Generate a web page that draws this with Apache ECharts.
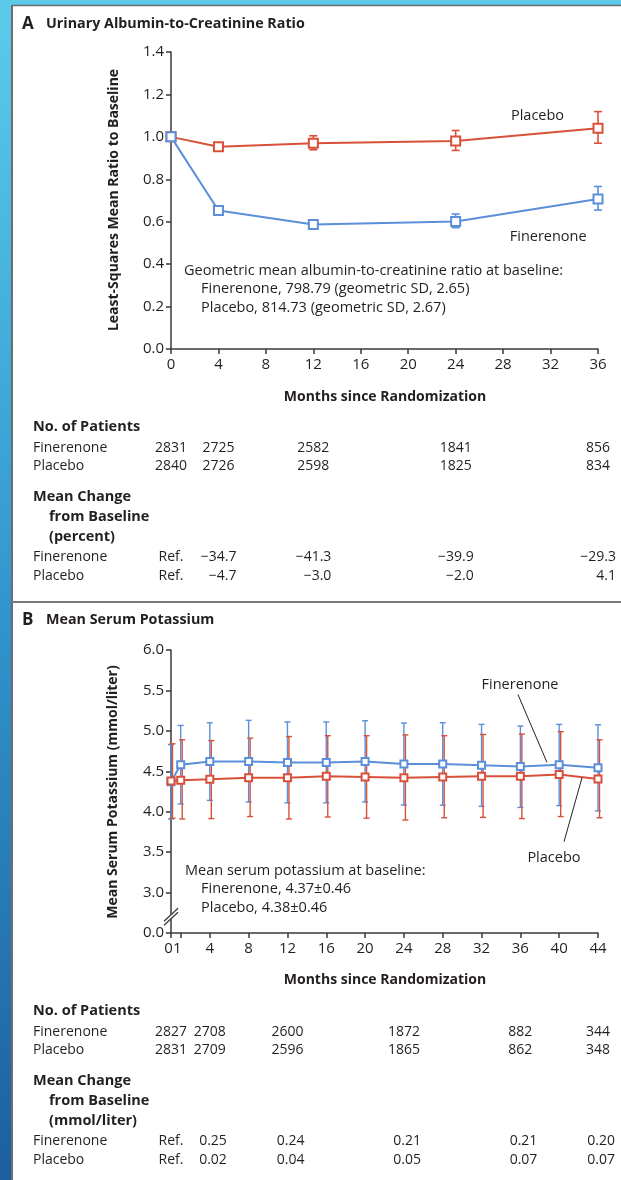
<!DOCTYPE html>
<html>
<head>
<meta charset="utf-8">
<script src="https://cdn.jsdelivr.net/npm/echarts@6/dist/echarts.min.js"></script>
<style>
  html, body { margin: 0; padding: 0; background: #fff; }
  #chart { width: 621px; height: 1180px; }
</style>
</head>
<body>
<div id="chart"></div>
<script>
// ---- Panel A: urinary albumin-to-creatinine ratio (ratio to baseline) ----
const monthsA = [0, 4, 12, 24, 36];
const finA = [1.0, 0.653, 0.587, 0.601, 0.707];
const finALow = [1.0, 0.641, 0.575, 0.572, 0.655];
const finAHigh = [1.0, 0.665, 0.600, 0.636, 0.766];
const placA = [1.0, 0.953, 0.970, 0.980, 1.041];
const placALow = [1.0, 0.937, 0.939, 0.936, 0.970];
const placAHigh = [1.0, 0.970, 1.005, 1.030, 1.119];

// ---- Panel B: mean serum potassium (mmol/liter) ----
const monthsB = [0, 1, 4, 8, 12, 16, 20, 24, 28, 32, 36, 40, 44];
const finB = [4.37, 4.58, 4.62, 4.62, 4.61, 4.61, 4.62, 4.59, 4.59, 4.575, 4.56, 4.58, 4.545];
const finBLow = [3.91, 4.095, 4.14, 4.12, 4.11, 4.11, 4.12, 4.083, 4.08, 4.066, 4.053, 4.075, 4.01];
const finBHigh = [4.83, 5.067, 5.10, 5.13, 5.11, 5.11, 5.125, 5.096, 5.10, 5.08, 5.06, 5.08, 5.075];
const placB = [4.38, 4.39, 4.40, 4.42, 4.42, 4.44, 4.43, 4.42, 4.43, 4.44, 4.44, 4.46, 4.405];
const placBLow = [3.92, 3.91, 3.915, 3.94, 3.91, 3.935, 3.92, 3.897, 3.925, 3.93, 3.915, 3.94, 3.925];
const placBHigh = [4.84, 4.89, 4.88, 4.91, 4.93, 4.94, 4.94, 4.95, 4.94, 4.955, 4.96, 4.99, 4.89];

// Tick positions on the potassium time axis (0 and 1 are labelled separately, they sit close together)
const xTicksB = [0, 1, 4, 8, 12, 16, 20, 24, 28, 32, 36, 40, 44];
const earlyTicksB = [0, 1];

// ---- Tables beneath each panel ----
const tableMonthsA = [0, 4, 12, 24, 36];
const patientsAFin = ['2831', '2725', '2582', '1841', '856'];
const patientsAPla = ['2840', '2726', '2598', '1825', '834'];
const changeAFin = ['Ref.', '\u221234.7', '\u221241.3', '\u221239.9', '\u221229.3'];
const changeAPla = ['Ref.', '\u22124.7', '\u22123.0', '\u22122.0', '4.1'];

const tableMonthsB = [0, 4, 12, 24, 36, 44];
const patientsBFin = ['2827', '2708', '2600', '1872', '882', '344'];
const patientsBPla = ['2831', '2709', '2596', '1865', '862', '348'];
const changeBFin = ['Ref.', '0.25', '0.24', '0.21', '0.21', '0.20'];
const changeBPla = ['Ref.', '0.02', '0.04', '0.05', '0.07', '0.07'];

const FONT = '"Open Sans", "Noto Sans", sans-serif';
const BLUE = '#5b8fd9';
const RED = '#d9503a';
const INK = '#231f20';
const AXIS = '#3a3a3a';

const chart = echarts.init(document.getElementById('chart'));

function errorBars(xi, yi, months, low, high, color, capHalf, width, dx, skipFirst) {
  const data = [];
  months.forEach((m, i) => { if (!(skipFirst && i === 0)) data.push([m, low[i], high[i]]); });
  return {
    type: 'custom', xAxisIndex: xi, yAxisIndex: yi, data: data,
    encode: { x: 0, y: [1, 2] }, silent: true, z: 2,
    renderItem: function (params, api) {
      const m = api.value(0);
      const top = api.coord([m, api.value(2)]);
      const bot = api.coord([m, api.value(1)]);
      const x = top[0] + dx;
      const st = { stroke: color, lineWidth: width };
      return {
        type: 'group',
        children: [
          { type: 'line', shape: { x1: x, y1: top[1], x2: x, y2: bot[1] }, style: st },
          { type: 'line', shape: { x1: x - capHalf, y1: top[1], x2: x + capHalf, y2: top[1] }, style: st },
          { type: 'line', shape: { x1: x - capHalf, y1: bot[1], x2: x + capHalf, y2: bot[1] }, style: st }
        ]
      };
    }
  };
}

function lineSeries(xi, yi, months, vals, color, size, z) {
  return {
    type: 'line', xAxisIndex: xi, yAxisIndex: yi,
    data: months.map((m, i) => [m, vals[i]]),
    symbol: 'rect', symbolSize: size, showSymbol: true,
    lineStyle: { color: color, width: 2 },
    itemStyle: { color: '#fff', borderColor: color, borderWidth: 2 },
    z: z, silent: true
  };
}

const axisLineStyle = { color: AXIS, width: 1.5 };
const labelStyle = { color: INK, fontSize: 15, fontFamily: FONT };

chart.setOption({
  animation: false,
  backgroundColor: '#fff',
  grid: [
    { left: 171, right: 23, top: 52, height: 297 },
    { left: 171, right: 23, top: 650, height: 283 }
  ],
  xAxis: [
    {
      gridIndex: 0, type: 'value', min: 0, max: 36, interval: 4,
      axisLine: { lineStyle: axisLineStyle },
      axisTick: { show: true, length: 5, lineStyle: axisLineStyle },
      axisLabel: Object.assign({ margin: 8 }, labelStyle),
      splitLine: { show: false }
    },
    {
      gridIndex: 1, type: 'value', min: 0, max: 44,
      axisLine: { lineStyle: axisLineStyle },
      axisTick: { show: true, length: 5, lineStyle: axisLineStyle, customValues: xTicksB },
      axisLabel: Object.assign({
        margin: 8, customValues: xTicksB.filter(v => earlyTicksB.indexOf(v) < 0),
        showMaxLabel: true, hideOverlap: false
      }, labelStyle),
      splitLine: { show: false }
    }
  ],
  yAxis: [
    {
      gridIndex: 0, type: 'value', min: 0, max: 1.4, interval: 0.2,
      axisLine: { show: true, lineStyle: axisLineStyle },
      axisTick: { show: true, length: 5, lineStyle: axisLineStyle },
      axisLabel: Object.assign({ margin: 7, formatter: v => v.toFixed(1) }, labelStyle),
      splitLine: { show: false }
    },
    {
      gridIndex: 1, type: 'value', min: 2.5, max: 6.0, interval: 0.5,
      axisLine: { show: true, lineStyle: axisLineStyle },
      axisTick: { show: true, length: 5, lineStyle: axisLineStyle },
      // the lowest tick stands for zero, below the axis break
      axisLabel: Object.assign({ margin: 7, formatter: v => (v === 2.5 ? '0.0' : v.toFixed(1)) }, labelStyle),
      splitLine: { show: false }
    }
  ],
  series: [
    errorBars(0, 0, monthsA, placALow, placAHigh, RED, 4, 1.6, 0, true),
    errorBars(0, 0, monthsA, finALow, finAHigh, BLUE, 4, 1.6, 0, true),
    lineSeries(0, 0, monthsA, placA, RED, 9, 4),
    lineSeries(0, 0, monthsA, finA, BLUE, 9, 5),
    errorBars(1, 1, monthsB, finBLow, finBHigh, BLUE, 3, 1.4, 0, false),
    errorBars(1, 1, monthsB, placBLow, placBHigh, RED, 3, 1.4, 1.5, false),
    lineSeries(1, 1, monthsB, finB, BLUE, 7, 4),
    lineSeries(1, 1, monthsB, placB, RED, 7, 5)
  ]
});

// ---- Frame, titles, annotations and tables ----
const px = (gi, m, v) => chart.convertToPixel({ gridIndex: gi }, [m, v]);
const g = [];

function txt(x, y, text, opt) {
  opt = opt || {};
  g.push({
    type: 'text', x: x, y: y, rotation: opt.rotation || 0, z: 50,
    style: {
      text: text, fill: opt.color || INK, fontFamily: FONT,
      fontSize: opt.size || 14, fontWeight: opt.weight || 'normal',
      align: opt.align || 'left', verticalAlign: opt.valign || 'middle'
    }
  });
}
function seg(x1, y1, x2, y2, color, w) {
  g.push({ type: 'line', z: 50, shape: { x1, y1, x2, y2 }, style: { stroke: color, lineWidth: w } });
}

// outer frame
g.push({ type: 'rect', z: 40, shape: { x: 0, y: 0, width: 11, height: 1180 },
  style: { fill: new echarts.graphic.LinearGradient(0, 0, 0, 1, [
    { offset: 0, color: '#5ccbeb' }, { offset: 0.5, color: '#3297cf' }, { offset: 1, color: '#1c5f9e' }]) } });
g.push({ type: 'rect', z: 40, shape: { x: 0, y: 0, width: 621, height: 5 }, style: { fill: '#5bc9e9' } });
seg(12, 5.5, 621, 5.5, '#6d6d6d', 1.5);
seg(12, 5, 12, 1180, '#6d6d6d', 2);
seg(12, 602, 621, 602, '#7a7a7a', 2);

// panel titles
txt(22, 24, 'A', { size: 17, weight: 'bold' });
txt(46, 24, 'Urinary Albumin-to-Creatinine Ratio', { size: 14.3, weight: 'bold' });
txt(22, 620, 'B', { size: 17, weight: 'bold' });
txt(46, 620, 'Mean Serum Potassium', { size: 14.3, weight: 'bold' });

// axis titles
txt(114, 200, 'Least-Squares Mean Ratio to Baseline', { size: 14, weight: 'bold', align: 'center', rotation: Math.PI / 2 });
txt(385, 397, 'Months since Randomization', { size: 14, weight: 'bold', align: 'center' });
txt(113, 792, 'Mean Serum Potassium (mmol/liter)', { size: 14, weight: 'bold', align: 'center', rotation: Math.PI / 2 });
txt(385, 980, 'Months since Randomization', { size: 14, weight: 'bold', align: 'center' });

// the two crowded early tick labels of the potassium time axis
earlyTicksB.forEach((m, i) => {
  const q = px(1, m, 2.5);
  txt(q[0] + (i === 0 ? -2.5 : -3.5), q[1] + 8, String(m), { align: 'center', valign: 'top', size: 15 });
});

// panel A series labels and note
let p = px(0, 30.9, 1.098); txt(p[0], p[1], 'Placebo', { align: 'center', size: 14.5 });
p = px(0, 31.8, 0.528); txt(p[0], p[1], 'Finerenone', { align: 'center', size: 14.5 });
txt(184, 271, 'Geometric mean albumin-to-creatinine ratio at baseline:', { size: 14.5 });
txt(201, 289, 'Finerenone, 798.79 (geometric SD, 2.65)', { size: 14.5 });
txt(201, 308, 'Placebo, 814.73 (geometric SD, 2.67)', { size: 14.5 });

// panel B series labels with leader lines
p = px(1, 35.96, 5.563); txt(p[0], p[1], 'Finerenone', { align: 'center', size: 14.5 });
let a = px(1, 35.75, 5.45), b = px(1, 38.74, 4.61); seg(a[0], a[1], b[0], b[1], '#222', 1);
p = px(1, 39.46, 3.43); txt(p[0], p[1], 'Placebo', { align: 'center', size: 14.5 });
a = px(1, 40.5, 3.63); b = px(1, 42.35, 4.42); seg(a[0], a[1], b[0], b[1], '#222', 1);
txt(185, 871, 'Mean serum potassium at baseline:', { size: 14.5 });
txt(201, 889, 'Finerenone, 4.37\u00b10.46', { size: 14.5 });
txt(201, 908, 'Placebo, 4.38\u00b10.46', { size: 14.5 });

// axis break marks on the potassium axis
const br = px(1, 0, 2.72);
g.push({ type: 'polygon', z: 45, shape: { points: [[br[0] - 7, br[1] + 6], [br[0] + 7, br[1] - 7], [br[0] + 7, br[1] - 3], [br[0] - 7, br[1] + 10]] }, style: { fill: '#fff' } });
seg(br[0] - 7, br[1] + 6, br[0] + 7, br[1] - 7, AXIS, 1.3);
seg(br[0] - 7, br[1] + 10, br[0] + 7, br[1] - 3, AXIS, 1.3);

// tables
function table(gi, top, months, finN, plaN, finC, plaC, unit, rightPad) {
  const ys = [top, top + 21, top + 39.5, top + 70, top + 90, top + 110, top + 130, top + 149];
  txt(33, ys[0], 'No. of Patients', { size: 14.5, weight: 'bold' });
  txt(33, ys[1], 'Finerenone');
  txt(33, ys[2], 'Placebo');
  txt(33, ys[3], 'Mean Change', { size: 14.5, weight: 'bold' });
  txt(49, ys[4], 'from Baseline', { size: 14.5, weight: 'bold' });
  txt(49, ys[5], unit, { size: 14.5, weight: 'bold' });
  txt(33, ys[6], 'Finerenone');
  txt(33, ys[7], 'Placebo');
  months.forEach((m, i) => {
    const x = px(gi, m, gi === 0 ? 0 : 3)[0];
    txt(x, ys[1], finN[i], { align: 'center' });
    txt(x, ys[2], plaN[i], { align: 'center' });
    if (i === 0) {
      txt(x, ys[6], finC[i], { align: 'center' });
      txt(x, ys[7], plaC[i], { align: 'center' });
    } else {
      txt(x + rightPad, ys[6], finC[i], { align: 'right' });
      txt(x + rightPad, ys[7], plaC[i], { align: 'right' });
    }
  });
}
table(0, 427, tableMonthsA, patientsAFin, patientsAPla, changeAFin, changeAPla, '(percent)', 18);
table(1, 1011, tableMonthsB, patientsBFin, patientsBPla, changeBFin, changeBPla, '(mmol/liter)', 17);

chart.setOption({ graphic: g });
</script>
</body>
</html>
